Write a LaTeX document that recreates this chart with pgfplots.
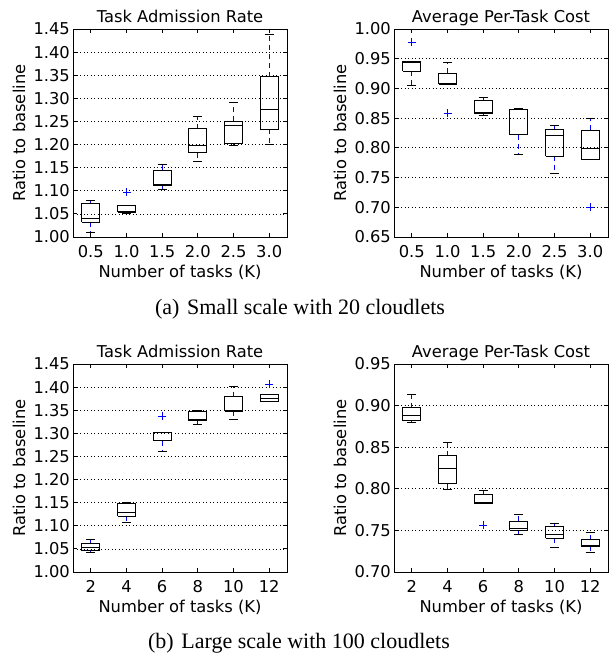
\documentclass[border=0pt]{standalone}
\usepackage{fontspec}
\setmainfont{DejaVu Sans}
\newfontfamily\capfont{Liberation Serif}
\usepackage{pgfplots}
\pgfplotsset{compat=1.18}

\newcommand\plotfont{\fontsize{16.3}{19}\selectfont}

\pgfplotsset{
  panel/.style={
    scale only axis, width=214pt, height=208pt,
    xmin=0.5, xmax=6.5, xtick={1,2,3,4,5,6},
    tick align=inside, major tick length=4pt,
    major tick style={black, line width=0.8pt},
    axis line style={line width=0.9pt},
    ymajorgrids,
    major grid style={black, line width=0.7pt, dash pattern=on 1pt off 2.5pt},
    /pgf/number format/assume math mode=true,
    tick label style={font=\plotfont},
    yticklabel style={/pgf/number format/fixed, /pgf/number format/fixed zerofill,
      /pgf/number format/precision=2, inner sep=0pt, xshift=-3pt},
    xticklabel style={inner sep=0pt, yshift=-8pt},
    xlabel={Number of tasks (K)}, ylabel={Ratio to baseline},
    every axis x label/.style={at={(axis description cs:0.5,-0.168)}, anchor=center, font=\plotfont},
    every axis y label/.style={at={(axis description cs:-0.252,0.5)}, rotate=90, anchor=center, font=\plotfont},
    every axis title/.style={at={(axis description cs:0.5,1)}, anchor=base, yshift=6pt, font=\plotfont},
  },
  whisk/.style={blue, line width=0.9pt, dash pattern=on 5pt off 4pt},
  edge/.style={black, line width=0.9pt},
  flier/.style={only marks, mark=+, mark size=4pt, blue,
    mark options={blue, solid, line width=0.9pt}},
}

% one box: position, lower whisker, lower quartile, median, upper quartile, upper whisker
\newcommand\bx[6]{%
  \pgfmathsetmacro\xa{#1-0.25}\pgfmathsetmacro\xb{#1+0.25}%
  \pgfmathsetmacro\ca{#1-0.125}\pgfmathsetmacro\cb{#1+0.125}%
  \addplot[whisk] coordinates {(#1,#3) (#1,#2)};
  \addplot[whisk] coordinates {(#1,#5) (#1,#6)};
  \addplot[edge] coordinates {(\ca,#2) (\cb,#2)};
  \addplot[edge] coordinates {(\ca,#6) (\cb,#6)};
  \addplot[edge] coordinates {(\xa,#3) (\xb,#3) (\xb,#5) (\xa,#5) (\xa,#3)};
  \addplot[edge] coordinates {(\xa,#4) (\xb,#4)};
}

\begin{document}
\begin{tikzpicture}
\useasboundingbox (0,0) rectangle (608pt,661pt);

% (a) small scale
\begin{axis}[panel, at={(73pt,424pt)}, anchor=south west,
  title={Task Admission Rate},
  ymin=1.00, ymax=1.45, ytick={1.00,1.05,1.10,1.15,1.20,1.25,1.30,1.35,1.40,1.45},
  xticklabels={0.5,1.0,1.5,2.0,2.5,3.0}]
\bx{1}{1.010}{1.032}{1.041}{1.072}{1.079}
\bx{2}{1.051}{1.053}{1.056}{1.068}{1.068}
\bx{3}{1.102}{1.1125}{1.114}{1.144}{1.157}
\bx{4}{1.164}{1.182}{1.198}{1.234}{1.260}
\bx{5}{1.199}{1.202}{1.241}{1.250}{1.291}
\bx{6}{1.201}{1.233}{1.2755}{1.347}{1.438}
\addplot[flier] coordinates {(2,1.097)};
\end{axis}

\begin{axis}[panel, at={(394pt,424pt)}, anchor=south west,
  title={Average Per-Task Cost},
  ymin=0.65, ymax=1.00, ytick={0.65,0.70,0.75,0.80,0.85,0.90,0.95,1.00},
  xticklabels={0.5,1.0,1.5,2.0,2.5,3.0}]
\bx{1}{0.905}{0.929}{0.944}{0.945}{0.945}
\bx{2}{0.907}{0.9075}{0.908}{0.926}{0.943}
\bx{3}{0.854}{0.8587}{0.860}{0.879}{0.884}
\bx{4}{0.789}{0.822}{0.823}{0.865}{0.867}
\bx{5}{0.757}{0.786}{0.8205}{0.831}{0.838}
\bx{6}{0.780}{0.780}{0.799}{0.8295}{0.850}
\addplot[flier] coordinates {(1,0.978) (2,0.858) (6,0.700)};
\end{axis}

% (b) large scale
\begin{axis}[panel, at={(73pt,89pt)}, anchor=south west,
  title={Task Admission Rate},
  ymin=1.00, ymax=1.45, ytick={1.00,1.05,1.10,1.15,1.20,1.25,1.30,1.35,1.40,1.45},
  xticklabels={2,4,6,8,10,12}]
\bx{1}{1.042}{1.0463}{1.054}{1.0608}{1.070}
\bx{2}{1.108}{1.121}{1.1295}{1.148}{1.150}
\bx{3}{1.261}{1.2843}{1.285}{1.3024}{1.3024}
\bx{4}{1.319}{1.327}{1.329}{1.3465}{1.350}
\bx{5}{1.329}{1.348}{1.349}{1.379}{1.402}
\bx{6}{1.368}{1.370}{1.376}{1.384}{1.384}
\addplot[flier] coordinates {(3,1.337) (6,1.406)};
\end{axis}

\begin{axis}[panel, at={(394pt,89pt)}, anchor=south west,
  title={Average Per-Task Cost},
  ymin=0.70, ymax=0.95, ytick={0.70,0.75,0.80,0.85,0.90,0.95},
  xticklabels={2,4,6,8,10,12}]
\bx{1}{0.880}{0.8817}{0.888}{0.8977}{0.913}
\bx{2}{0.7993}{0.806}{0.8246}{0.8395}{0.856}
\bx{3}{0.7828}{0.7828}{0.783}{0.7932}{0.798}
\bx{4}{0.7446}{0.7502}{0.7523}{0.7607}{0.7687}
\bx{5}{0.729}{0.7406}{0.745}{0.7543}{0.7579}
\bx{6}{0.723}{0.731}{0.7322}{0.7386}{0.747}
\addplot[flier] coordinates {(3,0.7563)};
\end{axis}

\node[font=\capfont\fontsize{22}{24}\selectfont, anchor=center] at (300pt,352pt)
  {(a)\hspace{0.35em}Small scale with 20 cloudlets};
\node[font=\capfont\fontsize{22}{24}\selectfont, anchor=center] at (299pt,18pt)
  {(b)\hspace{0.35em}Large scale with 100 cloudlets};
\end{tikzpicture}
\end{document}
